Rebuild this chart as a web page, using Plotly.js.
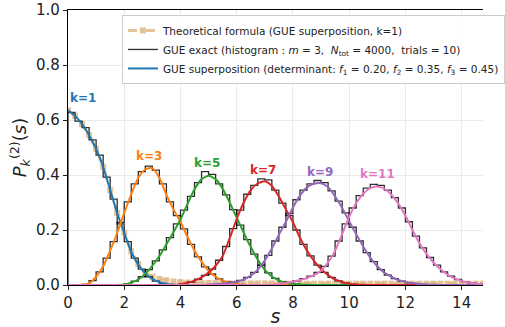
<!DOCTYPE html>
<html>
<head>
<meta charset="utf-8">
<script src="https://cdn.plot.ly/plotly-3.0.1.min.js"></script>
<style>html,body{margin:0;padding:0;background:#fff;}#chart{width:505px;height:327px;}</style>
</head>
<body>
<div id="chart"></div>
<script>
// common grid for the smooth curves (s values)
const sGrid = [0,0.25,0.5,0.75,1,1.25,1.5,1.75,2,2.25,2.5,2.75,3,3.25,3.5,3.75,4,4.25,4.5,4.75,
  5,5.25,5.5,5.75,6,6.25,6.5,6.75,7,7.25,7.5,7.75,8,8.25,8.5,8.75,9,9.25,9.5,9.75,
  10,10.25,10.5,10.75,11,11.25,11.5,11.75,12,12.25,12.5,12.75,13,13.25,13.5,13.75,14,14.25,14.5,14.75];

// theoretical formula (k=1) — follows k=1, small tail
const theory = [0.635,0.615,0.585,0.545,0.495,0.43,0.345,0.262,0.19,0.122,0.076,0.045,0.03,0.022,0.017,0.013,
  0.011,0.009,0.008,0.007,0.007,0.007,0.006,0.006,0.006,0.006,0.006,0.006,0.006,0.006,0.006,0.005,0.005,0.005,0.005,0.005,
  0.005,0.005,0.005,0.005,0.005,0.005,0.005,0.005,0.005,0.005,0.005,0.005,0.005,0.005,0.005,0.005,0.005,0.005,0.005,0.005,
  0.005,0.005,0.005,0.005];

// GUE superposition curves
const curveK1 = [0.635,0.615,0.585,0.545,0.495,0.43,0.345,0.262,0.19,0.12,0.074,0.042,0.022,0.01,0.004,0.001,
  0,0,0,0,0,0,0,0,0,0,0,0,0,0,0,0,0,0,0,0,0,0,0,0,0,0,0,0,0,0,0,0,0,0,0,0,0,0,0,0,0,0,0,0];
const curveK3 = [0,0,0.001,0.006,0.03,0.068,0.125,0.19,0.262,0.33,0.39,0.42,0.425,0.39,0.328,0.275,
  0.23,0.175,0.125,0.085,0.052,0.03,0.016,0.008,0.003,0.001,
  0,0,0,0,0,0,0,0,0,0,0,0,0,0,0,0,0,0,0,0,0,0,0,0,0,0,0,0,0,0,0,0,0,0];
const curveK5 = [0,0,0,0,0,0,0,0,0.002,0.008,0.02,0.04,0.07,0.105,0.148,0.192,
  0.238,0.295,0.348,0.385,0.397,0.385,0.35,0.30,0.245,0.19,0.138,0.092,0.055,0.031,0.017,0.008,0.004,0.002,0.001,
  0,0,0,0,0,0,0,0,0,0,0,0,0,0,0,0,0,0,0,0,0,0,0,0,0];
const curveK7 = [0,0,0,0,0,0,0,0,0,0,0,0,0,0,0,0,
  0.003,0.008,0.016,0.028,0.045,0.07,0.105,0.17,0.24,0.30,0.345,0.37,0.377,0.36,0.322,0.275,
  0.228,0.172,0.125,0.088,0.058,0.036,0.02,0.011,0.005,0.002,0.001,
  0,0,0,0,0,0,0,0,0,0,0,0,0,0,0,0,0,0];
const curveK9 = [0,0,0,0,0,0,0,0,0,0,0,0,0,0,0,0,0,0,0,0,
  0.002,0.003,0.005,0.008,0.012,0.02,0.034,0.056,0.09,0.133,0.183,0.23,0.282,0.325,0.355,0.368,
  0.37,0.356,0.322,0.28,0.232,0.185,0.14,0.1,0.068,0.045,0.03,0.018,0.011,0.007,0.004,0.002,0.001,
  0,0,0,0,0,0,0];
const curveK11 = [0,0,0,0,0,0,0,0,0,0,0,0,0,0,0,0,0,0,0,0,0,0,0,0,0,0,0,0,0,0,
  0.004,0.007,0.012,0.018,0.026,0.036,0.052,0.082,0.125,0.185,0.248,0.298,0.332,0.352,0.358,0.35,
  0.328,0.296,0.252,0.2,0.152,0.113,0.082,0.057,0.038,0.024,0.015,0.009,0.005,0.003];

// GUE exact histograms (bin width 0.25), start edge + bin heights
const binWidth = 0.25;
const histStart = [0, 0.5, 2.0, 4.0, 5.75, 7.5];
const histK1 = [0.628,0.596,0.572,0.528,0.472,0.392,0.312,0.222,0.158,0.098,0.058,0.03,0.014,0.006,0.002];
const histK3 = [0.002,0.016,0.048,0.098,0.158,0.228,0.302,0.368,0.412,0.432,0.418,0.368,0.302,0.252,0.204,0.148,0.102,0.066,0.04,0.022,0.012,0.005,0.002];
const histK5 = [0.004,0.014,0.03,0.056,0.088,0.128,0.172,0.222,0.272,0.322,0.372,0.412,0.402,0.368,0.328,0.274,0.218,0.165,0.112,0.072,0.044,0.024,0.012,0.006,0.003];
const histK7 = [0.005,0.011,0.021,0.035,0.058,0.09,0.14,0.205,0.272,0.33,0.362,0.386,0.382,0.345,0.298,0.252,0.2,0.148,0.106,0.072,0.046,0.028,0.015,0.008,0.003];
const histK9 = [0.01,0.017,0.028,0.046,0.072,0.108,0.16,0.21,0.26,0.31,0.345,0.368,0.38,0.372,0.342,0.305,0.262,0.21,0.16,0.118,0.085,0.056,0.036,0.023,0.014,0.008,0.005,0.002];
const histK11 = [0.005,0.009,0.015,0.023,0.032,0.046,0.068,0.105,0.16,0.222,0.28,0.325,0.352,0.366,0.362,0.345,0.318,0.28,0.23,0.178,0.135,0.1,0.072,0.048,0.032,0.02,0.012,0.007,0.004];

const kLabels = ['k=1','k=3','k=5','k=7','k=9','k=11'];
const kLabelX = [0.52, 2.88, 4.93, 6.95, 8.98, 11.01];
const kLabelY = [0.68, 0.469, 0.444, 0.418, 0.411, 0.404];
const colors = ['#1f77b4','#ff7f0e','#2ca02c','#d62728','#9467bd','#e377c2'];

const curves = [curveK1, curveK3, curveK5, curveK7, curveK9, curveK11];
const hists = [histK1, histK3, histK5, histK7, histK9, histK11];

const traces = [];
traces.push({
  x: sGrid, y: theory, mode: 'lines+markers', type: 'scatter',
  name: 'Theoretical formula (GUE superposition, k=1)',
  line: {color: 'rgba(222,184,135,0.85)', width: 3, dash: 'dash'},
  marker: {symbol: 'square', size: 6, color: 'rgba(222,184,135,0.85)'}
});

hists.forEach((h, i) => {
  const x = [histStart[i]], y = [0];
  h.forEach((v, j) => { x.push(histStart[i] + j * binWidth); y.push(v); });
  x.push(histStart[i] + h.length * binWidth); y.push(0);
  traces.push({
    x: x, y: y, mode: 'lines', type: 'scatter', line: {shape: 'hv', color: 'rgba(0,0,0,0.82)', width: 1.3},
    name: 'GUE exact (histogram : <i>m</i> = 3,  <i>N</i><sub>tot</sub> = 4000,  trials = 10)',
    showlegend: i === 0, legendgroup: 'hist'
  });
});

curves.forEach((c, i) => {
  traces.push({
    x: sGrid, y: c, mode: 'lines', type: 'scatter',
    line: {color: colors[i], width: 2, shape: 'spline', smoothing: 0.6},
    name: 'GUE superposition (determinant: <i>f</i><sub>1</sub> = 0.20, <i>f</i><sub>2</sub> = 0.35, <i>f</i><sub>3</sub> = 0.45)',
    showlegend: i === 0, legendgroup: 'curve'
  });
});

const annotations = kLabels.map((t, i) => ({
  x: kLabelX[i], y: kLabelY[i], xref: 'x', yref: 'y', text: '<b>' + t + '</b>', showarrow: false,
  font: {family: 'DejaVu Sans', size: 12, color: colors[i]}, xanchor: 'center', yanchor: 'middle'
}));

const layout = {
  width: 505, height: 327,
  margin: {l: 68, r: 0, t: 10, b: 42},
  paper_bgcolor: '#fff', plot_bgcolor: '#fff',
  font: {family: 'DejaVu Sans', color: '#222'},
  showlegend: true,
  legend: {x: 0.13, y: 0.982, xanchor: 'left', yanchor: 'top', bgcolor: 'rgba(255,255,255,0.85)',
    bordercolor: '#cccccc', borderwidth: 1, font: {size: 10.5, color: '#222'}, tracegroupgap: 0, itemwidth: 30},
  xaxis: {range: [0, 14.76], tickvals: [0,2,4,6,8,10,12,14], ticks: 'outside', ticklen: 4, tickcolor: '#222',
    showline: true, linecolor: '#000', linewidth: 1.2, mirror: true, showgrid: true, gridcolor: '#ebebeb', zeroline: false,
    tickfont: {size: 15}, title: {text: '<i>s</i>', font: {size: 19}, standoff: 2}},
  yaxis: {range: [0, 1.0], tickvals: [0,0.2,0.4,0.6,0.8,1.0], ticktext: ['0.0','0.2','0.4','0.6','0.8','1.0'],
    ticks: 'outside', ticklen: 4, tickcolor: '#222',
    showline: true, linecolor: '#000', linewidth: 1.2, showgrid: true, gridcolor: '#ebebeb', zeroline: false,
    tickfont: {size: 15}, title: {text: '<i>P</i><sub><i>k</i></sub><sup>(2)</sup>(<i>s</i>)', font: {size: 18}, standoff: 4}},
  annotations: annotations
};

Plotly.newPlot('chart', traces, layout, {displayModeBar: false, staticPlot: true});
</script>
</body>
</html>
